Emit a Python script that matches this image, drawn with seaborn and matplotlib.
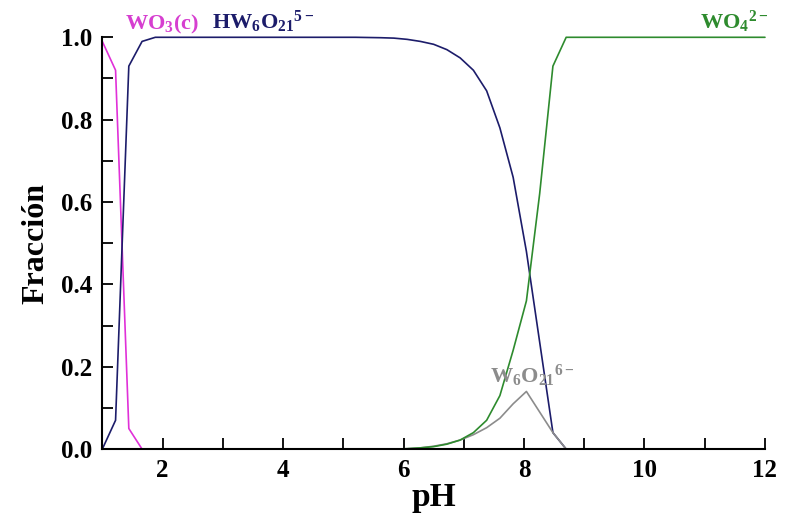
import pandas as pd
import seaborn as sns
import matplotlib.pyplot as plt
from matplotlib.ticker import MultipleLocator, FormatStrFormatter

# species fractions (pH step of about 0.22)
ph_wo3 = [1.00, 1.22, 1.44, 1.66]
frac_wo3 = [0.99, 0.92, 0.05, 0.0]

ph_hw6 = [1.00, 1.22, 1.44, 1.66, 1.88, 2.5, 3.5, 4.5, 5.2, 5.62, 5.84, 6.06,
          6.28, 6.50, 6.72, 6.94, 7.16, 7.38, 7.60, 7.82, 8.04, 8.26, 8.48, 8.70]
frac_hw6 = [0.0, 0.07, 0.93, 0.99, 1.0, 1.0, 1.0, 1.0, 1.0, 0.999, 0.998, 0.995,
            0.99, 0.983, 0.97, 0.95, 0.92, 0.87, 0.78, 0.66, 0.48, 0.26, 0.04, 0.0]

ph_w6 = [5.84, 6.06, 6.28, 6.50, 6.72, 6.94, 7.16, 7.38, 7.60, 7.82, 8.04,
         8.26, 8.48, 8.70]
frac_w6 = [0.0, 0.001, 0.003, 0.007, 0.013, 0.022, 0.035, 0.052, 0.075, 0.11,
           0.14, 0.09, 0.04, 0.0]

ph_wo4 = [5.84, 6.06, 6.28, 6.50, 6.72, 6.94, 7.16, 7.38, 7.60, 7.82, 8.04,
          8.26, 8.48, 8.70, 9.5, 10.5, 11.5, 12.0]
frac_wo4 = [0.0, 0.001, 0.003, 0.006, 0.012, 0.022, 0.04, 0.07, 0.13, 0.24,
            0.36, 0.62, 0.93, 1.0, 1.0, 1.0, 1.0, 1.0]

sns.set_style("ticks")
plt.rcParams["font.family"] = ["Liberation Serif", "DejaVu Serif"]
plt.rcParams["font.weight"] = "bold"
plt.rcParams["text.color"] = "black"
plt.rcParams["axes.labelcolor"] = "black"
plt.rcParams["xtick.color"] = "black"
plt.rcParams["ytick.color"] = "black"
plt.rcParams["mathtext.fontset"] = "custom"
plt.rcParams["mathtext.rm"] = "Liberation Serif:bold"
plt.rcParams["mathtext.it"] = "Liberation Serif:bold"
plt.rcParams["mathtext.bf"] = "Liberation Serif:bold"

fig = plt.figure(figsize=(7.87, 5.18), dpi=100)
ax = fig.add_axes([0.130, 0.133, 0.842, 0.795])

series = [
    (ph_wo3, frac_wo3, "#e030d8"),
    (ph_hw6, frac_hw6, "#1c1c6a"),
    (ph_w6, frac_w6, "#8c8c8c"),
    (ph_wo4, frac_wo4, "#2e8b2e"),
]
for ph, frac, color in series:
    df = pd.DataFrame({"pH": ph, "frac": frac})
    sns.lineplot(data=df, x="pH", y="frac", ax=ax, color=color, linewidth=1.2,
                 sort=False, clip_on=False)

ax.set_xlim(1, 12)
ax.set_ylim(0, 1.0)
ax.xaxis.set_major_locator(MultipleLocator(2))
ax.xaxis.set_minor_locator(MultipleLocator(1))
ax.yaxis.set_major_locator(MultipleLocator(0.2))
ax.yaxis.set_minor_locator(MultipleLocator(0.1))
ax.yaxis.set_major_formatter(FormatStrFormatter("%.1f"))
ax.tick_params(which="both", direction="in", length=8, width=1.3,
               labelsize=18, pad=7, colors="black")
for lab in ax.get_xticklabels() + ax.get_yticklabels():
    lab.set_fontweight("bold")

sns.despine(ax=ax)
for side in ["left", "bottom"]:
    ax.spines[side].set_linewidth(1.5)
    ax.spines[side].set_color("black")

ax.set_xlabel("pH", fontsize=24, fontweight="bold", labelpad=0)
ax.set_ylabel("Fracción", fontsize=23, fontweight="bold", labelpad=8)

# species labels
ax.text(1.38, 1.02, r"WO$_3$(c)", color="#d63fd0", fontsize=16,
        fontweight="bold", clip_on=False)
ax.text(2.82, 1.02, r"HW$_6$O$_{21}$$^{5-}$", color="#1c1c6a", fontsize=16,
        fontweight="bold", clip_on=False)
ax.text(10.92, 1.02, r"WO$_4$$^{2-}$", color="#2e8b2e", fontsize=16,
        fontweight="bold", clip_on=False)
ax.text(7.43, 0.16, r"W$_6$O$_{21}$$^{6-}$", color="#8c8c8c", fontsize=16,
        fontweight="bold")

fig.savefig("out.png", dpi=100)
